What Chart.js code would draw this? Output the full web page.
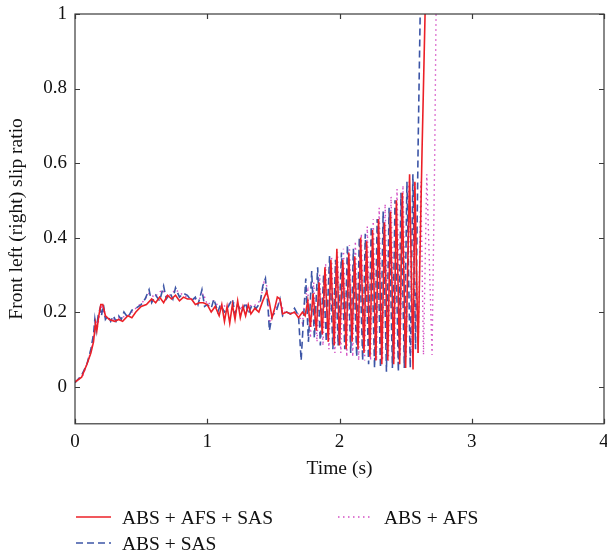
<!DOCTYPE html>
<html>
<head>
<meta charset="utf-8">
<script src="https://cdn.jsdelivr.net/npm/chart.js@4/dist/chart.umd.min.js"></script>
<style>
html,body{margin:0;padding:0;background:#fff;}
#wrap{width:607px;height:554px;}
</style>
</head>
<body>
<div id="wrap"><canvas id="c" width="607" height="554"></canvas></div>
<script>
// ---- Data (time in s, slip ratio) ----
const seriesNames = ["ABS + AFS + SAS", "ABS + SAS", "ABS + AFS"];
const xTickValues = [0, 1, 2, 3, 4];
const xTickLabels = ["0", "1", "2", "3", "4"];
const yTickValues = [0, 0.2, 0.4, 0.6, 0.8, 1];
const yTickLabels = ["0", "0.2", "0.4", "0.6", "0.8", "1"];

// ABS + AFS + SAS (red solid)
const redT = [0.00,0.05,0.09,0.12,0.14,0.155,0.165,0.18,0.195,0.21,0.23,0.26,0.30,0.33,0.36,0.40,0.43,0.46,0.50,0.54,0.58,0.61,0.64,0.67,0.70,0.73,0.76,0.79,0.82,0.85,0.88,0.91,0.94,0.97,
  1.00,1.03,1.06,1.09,1.11,1.13,1.15,1.17,1.19,1.21,1.23,1.25,1.27,1.29,1.31,1.33,1.36,1.39,1.42,1.45,1.47,1.49,1.51,1.53,1.55,1.57,1.60,1.63,1.66,1.69,1.72,1.74,
  1.76,1.78,1.80,1.825,1.845,1.87,1.89,1.915,1.935,1.96,1.98,2.00,2.025,2.05,2.07,2.095,2.115,2.14,2.16,2.185,2.205,2.23,2.25,2.275,2.295,2.32,2.34,2.365,2.385,2.41,2.43,2.455,2.475,2.50,2.53,2.556,2.57,2.594,2.624,2.647,2.66];
const redV = [0.012,0.025,0.06,0.09,0.12,0.17,0.15,0.19,0.22,0.22,0.19,0.18,0.175,0.18,0.175,0.19,0.185,0.20,0.215,0.22,0.235,0.225,0.24,0.225,0.245,0.235,0.245,0.23,0.24,0.235,0.235,0.22,0.225,0.225,
  0.22,0.20,0.215,0.19,0.22,0.175,0.215,0.17,0.22,0.18,0.23,0.185,0.215,0.19,0.22,0.195,0.21,0.20,0.23,0.255,0.225,0.185,0.21,0.24,0.235,0.195,0.20,0.195,0.20,0.185,0.20,0.19,
  0.23,0.16,0.25,0.15,0.28,0.14,0.32,0.12,0.34,0.11,0.37,0.11,0.34,0.10,0.36,0.12,0.35,0.10,0.40,0.09,0.39,0.08,0.42,0.07,0.45,0.06,0.44,0.07,0.47,0.06,0.50,0.06,0.52,0.05,0.57,0.046,0.55,0.09,0.63,1.0,1.3];

// ABS + SAS (blue dashed)
const blueT = [0.00,0.05,0.09,0.12,0.14,0.15,0.16,0.175,0.19,0.20,0.215,0.23,0.25,0.27,0.29,0.31,0.33,0.35,0.37,0.40,0.43,0.46,0.50,0.53,0.56,0.58,0.61,0.64,0.67,0.69,0.72,0.74,0.76,0.79,0.82,0.85,0.88,0.91,0.93,0.96,0.98,
  1.00,1.03,1.05,1.08,1.10,1.13,1.16,1.19,1.21,1.23,1.26,1.29,1.31,1.34,1.37,1.40,1.42,1.44,1.46,1.47,1.49,1.52,1.55,1.57,1.60,1.63,1.66,1.69,1.71,
  1.745,1.765,1.79,1.81,1.835,1.855,1.88,1.90,1.925,1.95,1.97,1.99,2.015,2.04,2.06,2.085,2.105,2.13,2.15,2.175,2.195,2.22,2.24,2.265,2.285,2.31,2.33,2.355,2.375,2.40,2.42,2.445,2.465,2.49,2.51,2.535,2.555,2.575,2.595,2.61,2.62];
const blueV = [0.01,0.03,0.06,0.10,0.14,0.18,0.15,0.19,0.21,0.19,0.22,0.18,0.19,0.175,0.19,0.175,0.19,0.18,0.20,0.185,0.205,0.21,0.22,0.235,0.26,0.225,0.245,0.23,0.27,0.235,0.25,0.235,0.265,0.24,0.25,0.245,0.23,0.24,0.22,0.26,0.215,
  0.22,0.21,0.235,0.20,0.22,0.20,0.215,0.235,0.195,0.22,0.20,0.225,0.195,0.22,0.21,0.225,0.27,0.29,0.21,0.15,0.19,0.20,0.235,0.19,0.20,0.195,0.21,0.19,0.07,
  0.29,0.12,0.31,0.13,0.32,0.11,0.30,0.12,0.35,0.10,0.34,0.11,0.36,0.10,0.38,0.09,0.37,0.08,0.40,0.07,0.41,0.06,0.43,0.05,0.45,0.05,0.47,0.04,0.48,0.05,0.50,0.04,0.52,0.05,0.55,0.05,0.57,0.10,0.66,1.0,1.3];

// ABS + AFS (magenta dotted)
const magT = [0.00,0.06,0.10,0.13,0.155,0.17,0.20,0.23,0.28,0.34,0.40,0.46,0.52,0.56,0.60,0.66,0.70,0.76,0.82,0.88,0.94,0.97,
  1.00,1.05,1.10,1.15,1.20,1.25,1.30,1.35,1.40,1.43,1.45,1.47,1.50,1.55,1.58,1.63,1.68,1.72,1.74,
  1.76,1.78,1.805,1.83,1.85,1.875,1.895,1.92,1.94,1.965,1.985,2.01,2.03,2.055,2.075,2.10,2.12,2.145,2.165,2.19,2.21,2.235,2.255,2.28,2.30,2.325,2.345,2.37,2.39,2.415,2.435,2.46,2.48,2.505,2.525,2.55,2.57,2.595,2.615,2.635,2.66,2.70,2.72,2.73,2.74];
const magV = [0.012,0.03,0.07,0.11,0.18,0.16,0.22,0.185,0.18,0.185,0.19,0.21,0.23,0.25,0.24,0.26,0.24,0.26,0.245,0.235,0.235,0.25,
  0.22,0.23,0.21,0.22,0.225,0.21,0.22,0.215,0.23,0.28,0.27,0.17,0.20,0.23,0.20,0.195,0.20,0.17,0.24,
  0.26,0.13,0.28,0.12,0.30,0.11,0.33,0.10,0.35,0.09,0.36,0.09,0.37,0.08,0.38,0.08,0.39,0.07,0.41,0.07,0.43,0.07,0.45,0.07,0.48,0.07,0.49,0.07,0.51,0.07,0.53,0.08,0.54,0.08,0.55,0.09,0.55,0.09,0.55,0.085,0.57,0.085,0.62,1.0,1.3];

const toXY = (ts, vs) => ts.map((t, i) => ({x: t, y: vs[i]}));

const FONT = '"Liberation Serif", "DejaVu Serif", serif';
const colors = ["#ec2027", "#3c55a6", "#d44fc4"];
const dashes = [[], [7, 4], [1.5, 3.5]];
const widths = [1.6, 1.6, 1.4];

const framePlugin = {
  id: 'frame',
  afterDatasetsDraw(chart) {
    const {ctx, chartArea: a, scales: {x, y}} = chart;
    ctx.save();
    ctx.strokeStyle = '#3a3a3a';
    ctx.lineWidth = 1.2;
    ctx.setLineDash([]);
    ctx.strokeRect(a.left, a.top, a.right - a.left, a.bottom - a.top);
    const L = 5;
    ctx.beginPath();
    xTickValues.forEach(v => {
      const px = Math.round(x.getPixelForValue(v)) + 0.5;
      ctx.moveTo(px, a.bottom); ctx.lineTo(px, a.bottom - L);
      ctx.moveTo(px, a.top); ctx.lineTo(px, a.top + L);
    });
    yTickValues.forEach(v => {
      const py = Math.round(y.getPixelForValue(v)) + 0.5;
      ctx.moveTo(a.left, py); ctx.lineTo(a.left + L, py);
      ctx.moveTo(a.right, py); ctx.lineTo(a.right - L, py);
    });
    ctx.stroke();
    ctx.restore();
  },
  afterDraw(chart) {
    const {ctx} = chart;
    const items = [
      {i: 0, lx: 76, ly: 517},
      {i: 2, lx: 338, ly: 517},
      {i: 1, lx: 76, ly: 543}
    ];
    ctx.save();
    ctx.font = '19.5px ' + FONT;
    ctx.textBaseline = 'alphabetic';
    ctx.textAlign = 'left';
    items.forEach(it => {
      ctx.strokeStyle = colors[it.i];
      ctx.lineWidth = widths[it.i];
      ctx.setLineDash(dashes[it.i]);
      ctx.beginPath();
      ctx.moveTo(it.lx, it.ly); ctx.lineTo(it.lx + 35, it.ly);
      ctx.stroke();
      ctx.setLineDash([]);
      ctx.fillStyle = '#111';
      ctx.fillText(seriesNames[it.i], it.lx + 46, it.ly + 7);
    });
    ctx.restore();
  }
};

const datasets = [toXY(redT, redV), toXY(blueT, blueV), toXY(magT, magV)].map((d, i) => ({
  label: seriesNames[i],
  data: d,
  borderColor: colors[i],
  backgroundColor: colors[i],
  borderWidth: widths[i],
  borderDash: dashes[i],
  pointRadius: 0,
  tension: 0,
  fill: false,
  clip: 0
}));

new Chart(document.getElementById('c'), {
  type: 'line',
  data: {datasets},
  plugins: [framePlugin],
  options: {
    responsive: false,
    animation: false,
    events: [],
    layout: {padding: {top: 14, right: 3, bottom: 73, left: 0}},
    plugins: {legend: {display: false}, tooltip: {enabled: false}},
    scales: {
      x: {
        type: 'linear', min: 0, max: 4,
        grid: {display: false, drawTicks: false},
        border: {display: false},
        afterBuildTicks: s => { s.ticks = xTickValues.map(v => ({value: v})); },
        afterFit: s => { s.paddingRight = 0; s.paddingLeft = 0; },
        ticks: {
          padding: 7, color: '#111', maxRotation: 0,
          font: {family: FONT, size: 19},
          callback: v => xTickLabels[xTickValues.indexOf(v)]
        },
        title: {display: true, text: 'Time (s)', color: '#111', padding: {top: -3, bottom: 0}, font: {family: FONT, size: 19.5}}
      },
      y: {
        type: 'linear', min: -0.1, max: 1,
        grid: {display: false, drawTicks: false},
        border: {display: false},
        afterBuildTicks: s => { s.ticks = yTickValues.map(v => ({value: v})); },
        afterFit: s => { s.width = 75; s.paddingTop = 0; s.paddingBottom = 0; },
        ticks: {
          padding: 8, color: '#111',
          font: {family: FONT, size: 19},
          callback: v => yTickLabels[yTickValues.indexOf(v)]
        },
        title: {display: true, text: 'Front left (right) slip ratio', color: '#111', padding: {top: 5, bottom: 0}, font: {family: FONT, size: 19.5}}
      }
    }
  }
});
</script>
</body>
</html>
